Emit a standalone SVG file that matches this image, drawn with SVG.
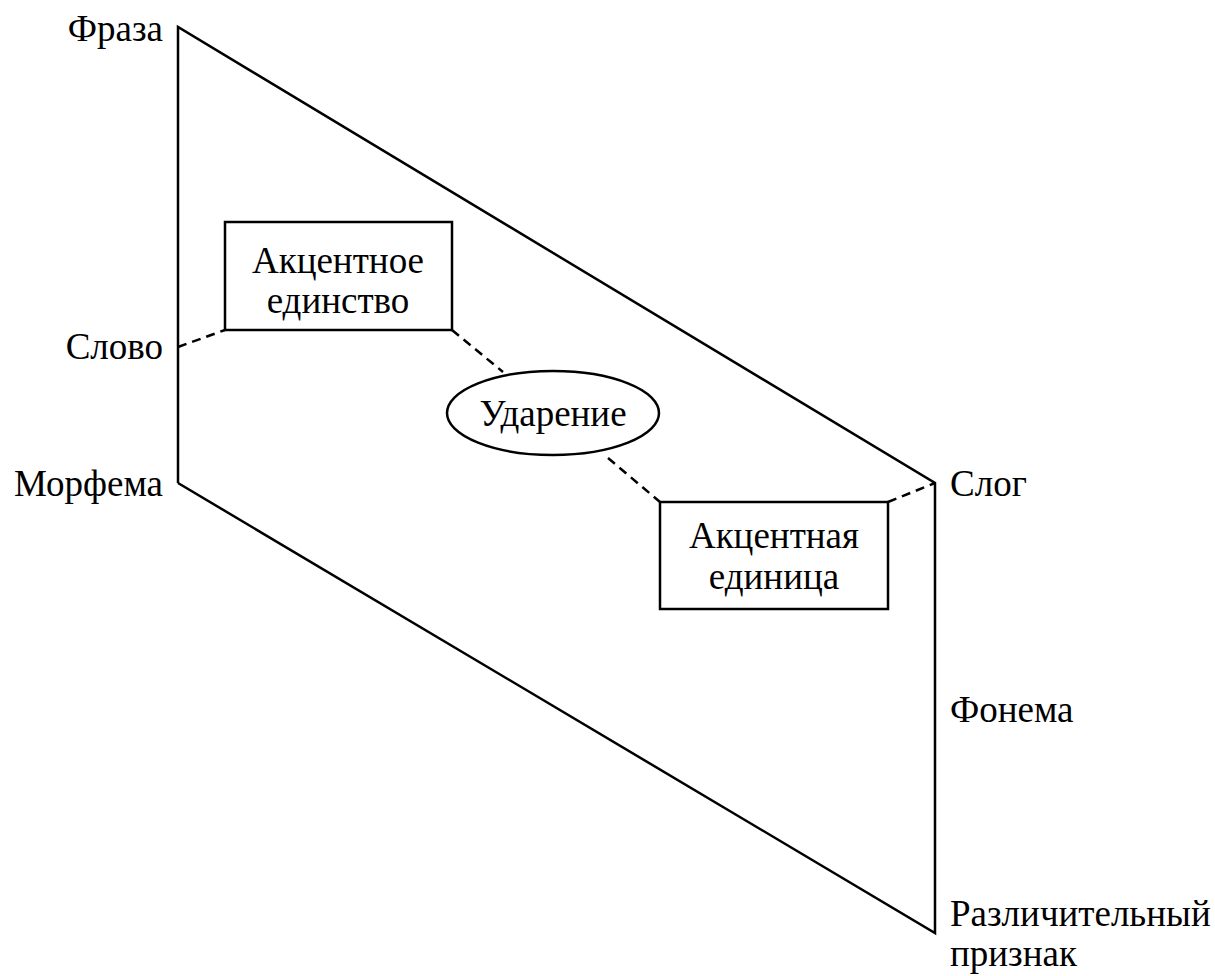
<svg xmlns="http://www.w3.org/2000/svg" width="1215" height="976" viewBox="0 0 1215 976">
<style>
text{font-family:"Liberation Serif","Times New Roman",serif;font-size:37px;fill:#000}
.s{fill:none;stroke:#000;stroke-width:2.5}
.d{fill:none;stroke:#000;stroke-width:2.5;stroke-dasharray:9,6}
.m{text-anchor:middle}
.e{text-anchor:end}
</style>
<rect width="1215" height="976" fill="#fff"/>
<g id="frame">
<polyline class="s" points="178,483 178,27 935,483 935,933 178,483"/>
</g>
<g id="connectors">
<line class="d" x1="178" y1="347" x2="225" y2="330"/>
<line class="d" x1="452" y1="330" x2="503" y2="372"/>
<line class="d" x1="608" y1="458" x2="660" y2="502"/>
<line class="d" x1="888" y1="502" x2="935" y2="483"/>
</g>
<g id="labels">
<text class="e" x="163" y="41">Фраза</text>
<text class="e" x="163" y="359">Слово</text>
<text class="e" x="163" y="496">Морфема</text>
<text x="950" y="496">Слог</text>
<text x="950" y="722">Фонема</text>
<text x="950" y="926">Различительный</text>
<text x="950" y="966">признак</text>
</g>
<g id="akcentnoe">
<rect class="s" x="225" y="222" width="227" height="108"/>
<text class="m" x="338" y="273">Акцентное</text>
<text class="m" x="338" y="313">единство</text>
</g>
<g id="udarenie">
<ellipse class="s" cx="553" cy="413" rx="106" ry="42"/>
<text class="m" x="553" y="426">Ударение</text>
</g>
<g id="akcentnaya">
<rect class="s" x="660" y="502" width="228" height="107"/>
<text class="m" x="774" y="548">Акцентная</text>
<text class="m" x="774" y="589">единица</text>
</g>
</svg>
